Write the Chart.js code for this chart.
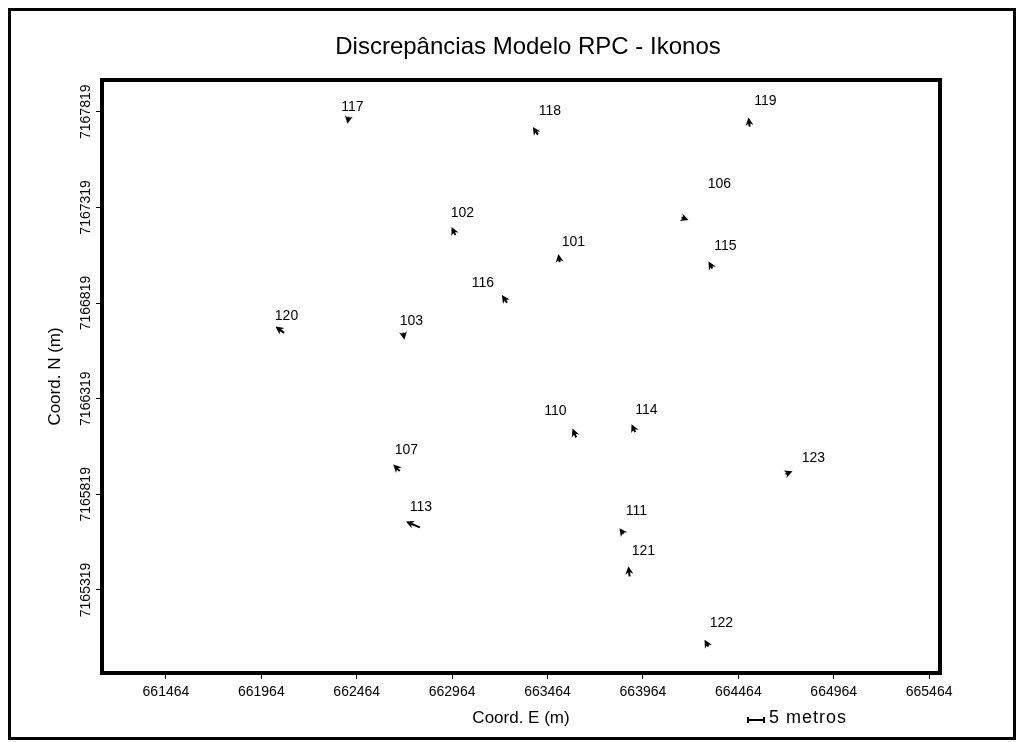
<!DOCTYPE html>
<html>
<head>
<meta charset="utf-8">
<title>Discrepâncias Modelo RPC - Ikonos</title>
<script src="https://cdn.jsdelivr.net/npm/chart.js@4/dist/chart.umd.min.js"></script>
<style>
  html, body { margin: 0; padding: 0; background: #fff; }
  #map { display: block; }
</style>
</head>
<body>
<canvas id="map" width="1024" height="742"></canvas>
<script>
// Pontos de verificação: coordenadas UTM (m) e discrepâncias (m) do modelo RPC
const pointIds = ['101', '102', '103', '106', '107', '110', '111', '113', '114',
                  '115', '116', '117', '118', '119', '120', '121', '122', '123'];
const east  = [663526, 662976, 662709, 664176, 662682, 663610, 663856, 662785, 663919,
               664323, 663246, 662420, 663408, 664522, 662075, 663893, 664302, 664721];
const north = [7167043, 7167185, 7166654, 7167263, 7165948, 7166126, 7165621, 7165650, 7166154,
               7167009, 7166829, 7167783, 7167708, 7167752, 7166669, 7165401, 7165032, 7165929];
const dEast  = [-0.3, -0.9,  0.3,  1.6, -1.6, -0.9, -0.9, -3.75, -0.9,
                -0.9, -1.25, -0.3, -1.25, -0.3, -2.2, -0.3, -0.9, 1.6];
const dNorth = [ 1.9,  1.9, -1.6, -0.6,  1.6,  2.2,  1.25,  1.6,  1.9,
                 1.6,  1.9, -1.6,  1.9,  2.2,  1.6,  2.5,  1.6,  0.6];

const eastTicks  = [661464, 661964, 662464, 662964, 663464, 663964, 664464, 664964, 665464];
const northTicks = [7165319, 7165819, 7166319, 7166819, 7167319, 7167819];

// extent of the map frame
const eastRange  = [661129, 665521];
const northRange = [7164885, 7167985];

// label placement next to each point (px, same order as pointIds)
const labelOffsets = [[14, -18], [8, -20], [8, -13], [36, -34], [8, -20], [-20, -24], [14, -21], [3, -20], [12, -20],
                      [14, -21], [-23, -18], [4, -12], [13, -22], [16, -23], [4, -16], [14, -23], [14, -22], [26, -15]];

const pxPerMeter = 3.2;     // exaggeration of the discrepancy vectors
const scaleBarMeters = 5;

const FONT = 'Liberation Sans';
const mapTitle = 'Discrepâncias Modelo RPC - Ikonos';

// cursor-like arrow: short shaft with a notched, filled head
function drawArrow(ctx, x0, y0, x1, y1) {
  const dx = x1 - x0, dy = y1 - y0;
  const len = Math.hypot(dx, dy);
  if (len < 0.5) return;
  const ux = dx / len, uy = dy / len;
  const head = 8;
  const half = 4;
  const bx = x1 - ux * head, by = y1 - uy * head;
  ctx.beginPath();
  ctx.moveTo(x0 - ux * 2, y0 - uy * 2);
  ctx.lineTo(x1 - ux * 3, y1 - uy * 3);
  ctx.stroke();
  ctx.beginPath();
  ctx.moveTo(x1, y1);
  ctx.lineTo(bx - uy * half, by + ux * half);
  ctx.lineTo(x1 - ux * head * 0.7, y1 - uy * head * 0.7);
  ctx.lineTo(bx + uy * half, by - ux * half);
  ctx.closePath();
  ctx.fill();
}

const mapPlugin = {
  id: 'mapLayout',
  beforeDraw(chart) {
    const ctx = chart.ctx;
    ctx.save();
    ctx.fillStyle = '#fff';
    ctx.fillRect(0, 0, chart.width, chart.height);
    ctx.strokeStyle = '#000';
    ctx.lineWidth = 3;
    ctx.strokeRect(9.5, 9.5, 1005, 729);
    ctx.fillStyle = '#000';
    ctx.font = '24px "' + FONT + '"';
    ctx.textAlign = 'center';
    ctx.textBaseline = 'middle';
    ctx.fillText(mapTitle, 528, 47);
    ctx.restore();
  },
  afterDatasetsDraw(chart) {
    const ctx = chart.ctx;
    const xs = chart.scales.x, ys = chart.scales.y;
    ctx.save();
    ctx.fillStyle = '#000';
    ctx.strokeStyle = '#000';
    ctx.lineWidth = 2;
    ctx.font = '14px "' + FONT + '"';
    ctx.textAlign = 'center';
    ctx.textBaseline = 'middle';
    pointIds.forEach((id, i) => {
      const px = xs.getPixelForValue(east[i]);
      const py = ys.getPixelForValue(north[i]);
      drawArrow(ctx, px, py, px + dEast[i] * pxPerMeter, py - dNorth[i] * pxPerMeter);
      ctx.fillText(id, px + labelOffsets[i][0], py + labelOffsets[i][1]);
    });
    ctx.restore();
  },
  afterDraw(chart) {
    const {ctx, chartArea: a} = chart;
    ctx.save();
    ctx.strokeStyle = '#000';
    ctx.lineWidth = 4;
    ctx.strokeRect(a.left, a.top, a.right - a.left, a.bottom - a.top);

    // barra de escala
    const bx = a.right - 192, by = 720;
    const bw = scaleBarMeters * pxPerMeter;
    ctx.lineWidth = 2;
    ctx.beginPath();
    ctx.moveTo(bx, by); ctx.lineTo(bx + bw, by);
    ctx.moveTo(bx, by - 3); ctx.lineTo(bx, by + 3);
    ctx.moveTo(bx + bw, by - 3); ctx.lineTo(bx + bw, by + 3);
    ctx.stroke();
    ctx.fillStyle = '#000';
    ctx.font = '18px "' + FONT + '"';
    ctx.letterSpacing = '1px';
    ctx.textAlign = 'left';
    ctx.textBaseline = 'alphabetic';
    ctx.fillText(scaleBarMeters + ' metros', bx + bw + 5, by + 3);
    ctx.restore();
  }
};

const tickFont = { family: FONT, size: 14 };
const axisGrid = { display: true, drawOnChartArea: false, drawTicks: true, tickLength: 6, color: '#000', lineWidth: 1 };

new Chart(document.getElementById('map'), {
  type: 'scatter',
  data: {
    datasets: [{
      label: 'Discrepâncias',
      data: east.map((e, i) => ({ x: e, y: north[i] })),
      pointRadius: 0,
      pointHoverRadius: 0
    }]
  },
  options: {
    responsive: false,
    animation: false,
    layout: { padding: { left: 42, right: 84, top: 80, bottom: 9 } },
    plugins: {
      legend: { display: false },
      tooltip: { enabled: false },
      title: { display: false }
    },
    scales: {
      x: {
        type: 'linear',
        min: eastRange[0],
        max: eastRange[1],
        afterBuildTicks: s => { s.ticks = eastTicks.map(v => ({ value: v })); },
        afterFit: s => { s.height = 60; },
        border: { display: false },
        grid: axisGrid,
        ticks: { callback: v => String(v), font: tickFont, color: '#000', padding: 5, maxRotation: 0, autoSkip: false },
        title: { display: true, text: 'Coord. E (m)', color: '#000', font: { family: FONT, size: 17 }, padding: { top: 0, bottom: 4 } }
      },
      y: {
        type: 'linear',
        min: northRange[0],
        max: northRange[1],
        afterBuildTicks: s => { s.ticks = northTicks.map(v => ({ value: v })); },
        afterFit: s => { s.width = 60; },
        border: { display: false },
        grid: axisGrid,
        ticks: { callback: v => String(v), font: tickFont, color: '#000', minRotation: 90, maxRotation: 90,
                 crossAlign: 'center', padding: -17, autoSkip: false },
        title: { display: true, text: 'Coord. N (m)', color: '#000', font: { family: FONT, size: 17 }, padding: { top: 3, bottom: 0 } }
      }
    }
  },
  plugins: [mapPlugin]
});
</script>
</body>
</html>
